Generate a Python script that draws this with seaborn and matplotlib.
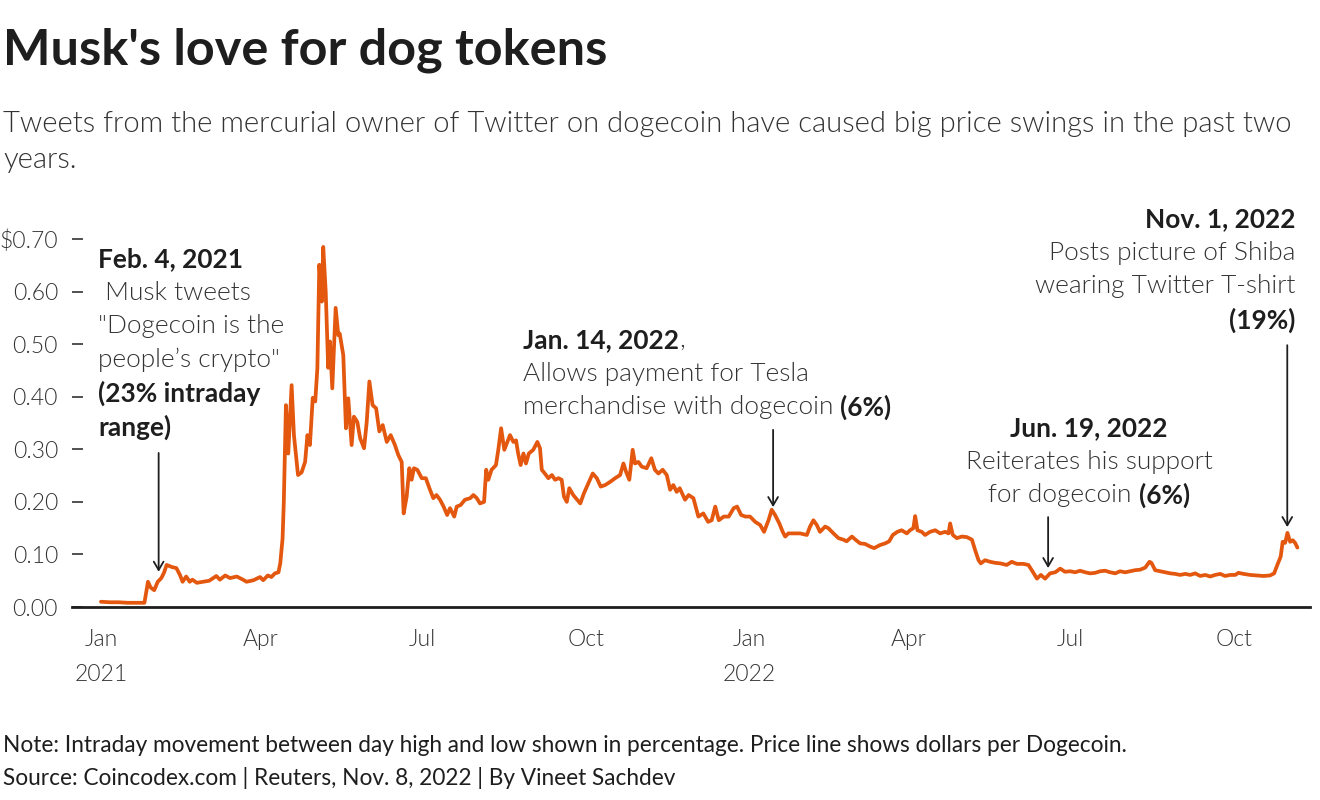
import matplotlib
matplotlib.use("Agg")
import matplotlib.pyplot as plt
import seaborn as sns
import pandas as pd

# ---- data ----
start_date = "2021-01-01"
day_offset = [0, 5, 10, 15, 20, 24.5, 26.5, 28, 30, 32, 34, 35.5, 37, 40, 42.5, 44.5, 46, 48, 50, 51.5,
              54, 57.5, 61, 65, 67, 70, 72.7, 76.5, 80, 82, 86, 89.6, 91.4, 94, 96, 98, 100, 101, 102.3, 103,
              104.2, 105.5, 107.4, 108.7, 111, 113, 115, 116.3, 117.7, 119.3, 120.7, 121.9, 123, 124.4, 125.2,
              126.6, 128, 129, 130.3, 132.2, 133.7, 134.5, 136.5, 138, 139.3, 141.2, 142.5, 144.4, 146, 148.2,
              149.7, 151.2, 153, 155, 156.8, 158.7, 161, 163.2, 165.6, 167.5, 169.4, 170.5, 172.2, 173.7, 175,
              176.3, 178.2, 180.7, 183, 185, 187.2, 189, 191, 193, 195, 196.6, 199, 200.4, 202.6, 205, 208,
              209.8, 211.7, 213.5, 215.8, 217, 218.2, 220, 222.5, 223.8, 225.4, 227.2, 228.6, 230.4, 232.3,
              233.8, 235, 236.4, 238, 239.4, 241, 243.5, 245.8, 247.3, 248.3, 250, 252, 254, 255.8, 257.7,
              259.5, 260.8, 262.4, 263.8, 266, 270, 272, 274.5, 277, 279.3, 281.5, 284, 286.8, 289.6, 292.4,
              294.3, 295.8, 297.6, 299.5, 300.8, 302.7, 304.6, 307.4, 310, 312, 314, 316.4, 318.7, 320.6,
              322.4, 324.3, 326, 329, 331, 333.7, 336.5, 339.3, 342, 344, 346, 348, 350.8, 353.6, 356.4,
              358.3, 360.6, 363, 365.6, 368.5, 371.3, 373.5, 376, 377.8, 379.7, 382.1, 384, 385.4, 387.2,
              390, 393.8, 397.6, 399.4, 401.3, 403.2, 405, 407.9, 409.7, 412.6, 415.4, 418.2, 420, 423, 425,
              427.6, 430.4, 433.2, 435.5, 438.9, 441.7, 444, 446, 448.6, 451, 453.9, 455.7, 457.6, 458.6,
              459.9, 462.3, 464.2, 467, 469.9, 472.7, 475.5, 477.4, 478.3, 479.8, 482.1, 484.9, 487.7, 490.6,
              492.4, 494.3, 495.6, 498, 500.8, 503.7, 506.5, 510.2, 513, 515.9, 519.6, 522.4, 524.3, 527.2,
              529.4, 531.8, 534.6, 537.5, 540.3, 543, 546, 548.7, 551.5, 554.4, 557.2, 560, 562.8, 565.6,
              568.5, 571.3, 574, 576.9, 579.7, 582.5, 585.4, 588.2, 590.6, 591.7, 593.8, 596.6, 599.4, 602.3,
              605, 607.9, 610.7, 613.5, 616.3, 619.2, 622, 624.8, 627.6, 630.4, 633.2, 636, 638.9, 640.7,
              643.5, 647.3, 651, 654.8, 658.5, 660.8, 662.6, 664.5, 665.6, 667, 668.3, 669.8, 671.3, 672.6,
              673.9]
price_usd = [0.010, 0.009, 0.009, 0.008, 0.008, 0.008, 0.048, 0.037, 0.032, 0.048, 0.055, 0.065, 0.080, 0.076,
             0.074, 0.061, 0.048, 0.058, 0.048, 0.052, 0.046, 0.048, 0.050, 0.059, 0.052, 0.060, 0.055, 0.058,
             0.052, 0.048, 0.051, 0.057, 0.051, 0.060, 0.057, 0.064, 0.066, 0.083, 0.130, 0.200, 0.384, 0.292,
             0.422, 0.327, 0.251, 0.256, 0.276, 0.327, 0.308, 0.398, 0.391, 0.454, 0.651, 0.581, 0.685, 0.600,
             0.455, 0.505, 0.416, 0.569, 0.517, 0.520, 0.479, 0.340, 0.397, 0.308, 0.362, 0.352, 0.321, 0.302,
             0.352, 0.429, 0.384, 0.378, 0.334, 0.346, 0.314, 0.327, 0.308, 0.289, 0.276, 0.178, 0.210, 0.264,
             0.242, 0.264, 0.261, 0.245, 0.245, 0.226, 0.207, 0.213, 0.204, 0.191, 0.175, 0.188, 0.172, 0.191,
             0.194, 0.204, 0.207, 0.213, 0.207, 0.197, 0.200, 0.261, 0.242, 0.261, 0.270, 0.299, 0.340, 0.299,
             0.311, 0.327, 0.314, 0.317, 0.292, 0.270, 0.292, 0.273, 0.292, 0.299, 0.314, 0.302, 0.261, 0.254,
             0.245, 0.251, 0.242, 0.245, 0.242, 0.210, 0.200, 0.226, 0.213, 0.197, 0.216, 0.235, 0.254, 0.245,
             0.229, 0.232, 0.238, 0.245, 0.251, 0.273, 0.257, 0.242, 0.299, 0.273, 0.276, 0.267, 0.264, 0.283,
             0.261, 0.254, 0.261, 0.251, 0.223, 0.232, 0.219, 0.226, 0.204, 0.213, 0.207, 0.172, 0.178, 0.162,
             0.165, 0.191, 0.165, 0.172, 0.172, 0.188, 0.191, 0.175, 0.172, 0.172, 0.162, 0.156, 0.143, 0.165,
             0.185, 0.175, 0.159, 0.143, 0.134, 0.140, 0.140, 0.140, 0.137, 0.153, 0.165, 0.156, 0.143, 0.153,
             0.150, 0.140, 0.131, 0.128, 0.125, 0.134, 0.128, 0.121, 0.120, 0.115, 0.112, 0.118, 0.121, 0.125,
             0.137, 0.143, 0.146, 0.140, 0.146, 0.150, 0.173, 0.146, 0.143, 0.137, 0.143, 0.146, 0.140, 0.143,
             0.140, 0.159, 0.137, 0.131, 0.134, 0.133, 0.128, 0.108, 0.089, 0.083, 0.089, 0.086, 0.084, 0.083,
             0.080, 0.086, 0.082, 0.082, 0.080, 0.070, 0.054, 0.061, 0.054, 0.064, 0.066, 0.073, 0.067, 0.068,
             0.066, 0.069, 0.066, 0.064, 0.065, 0.068, 0.069, 0.066, 0.064, 0.068, 0.066, 0.068, 0.070, 0.071,
             0.075, 0.086, 0.084, 0.070, 0.068, 0.066, 0.064, 0.063, 0.061, 0.063, 0.061, 0.064, 0.059, 0.061,
             0.058, 0.061, 0.063, 0.059, 0.061, 0.061, 0.065, 0.063, 0.061, 0.060, 0.059, 0.060, 0.064, 0.080,
             0.096, 0.124, 0.122, 0.141, 0.124, 0.127, 0.122, 0.113]

y_ticks = [0.0, 0.1, 0.2, 0.3, 0.4, 0.5, 0.6, 0.7]
y_tick_labels = ["0.00", "0.10", "0.20", "0.30", "0.40", "0.50", "0.60", "$0.70"]
x_ticks = ["2021-01-01", "2021-04-01", "2021-07-01", "2021-10-01",
           "2022-01-01", "2022-04-01", "2022-07-01", "2022-10-01"]
x_tick_labels = ["Jan\n2021", "Apr", "Jul", "Oct", "Jan\n2022", "Apr", "Jul", "Oct"]

title = "Musk's love for dog tokens"
subtitle = ("Tweets from the mercurial owner of Twitter on dogecoin have caused big price swings in the past two\n"
            "years.")
note = "Note: Intraday movement between day high and low shown in percentage. Price line shows dollars per Dogecoin."
source = "Source: Coincodex.com | Reuters, Nov. 8, 2022 | By Vineet Sachdev"

# ---- styling ----
sns.set_style("white")
plt.rcParams["font.family"] = ["Lato", "DejaVu Sans"]

LINE = "#e3570f"
DARK = "#1e1e1e"
TXT = "#333333"
LIGHT = 300
ANN = 18.9

df = pd.DataFrame({
    "date": pd.Timestamp(start_date) + pd.to_timedelta(day_offset, unit="D"),
    "price": price_usd,
})

fig = plt.figure(figsize=(13.2, 8.0), dpi=100)
ax = fig.add_axes([72 / 1320, 1 - 607 / 800, (1310 - 72) / 1320, (607 - 228.5) / 800])

sns.lineplot(data=df, x="date", y="price", ax=ax, color=LINE, linewidth=2.7)

x0 = pd.Timestamp(start_date)
ax.set_xlim(x0 - pd.Timedelta(days=16.3), x0 + pd.Timedelta(days=681))
ax.set_ylim(0, 0.72)

ax.set_yticks(y_ticks)
ax.set_yticklabels(y_tick_labels)
ax.set_xticks(pd.to_datetime(x_ticks))
ax.set_xticklabels(x_tick_labels, linespacing=1.8)
ax.set_xlabel("")
ax.set_ylabel("")

for s in ["top", "right", "left"]:
    ax.spines[s].set_visible(False)
ax.spines["bottom"].set_color(DARK)
ax.spines["bottom"].set_linewidth(2.0)
ax.tick_params(axis="y", direction="in", length=8, width=1.2, color=TXT, pad=10,
               labelsize=16.5, labelcolor=TXT, left=True)
ax.tick_params(axis="x", length=0, pad=16, labelsize=16.5, labelcolor=TXT)
for lab in ax.get_xticklabels() + ax.get_yticklabels():
    lab.set_fontweight(LIGHT)
ax.grid(False)

# ---- titles ----
fig.text(3 / 1320, 1 - 50 / 800, title, fontsize=36.3, fontweight="bold", color=DARK, va="center", ha="left")
fig.text(3 / 1320, 1 - 124 / 800, subtitle.split("\n")[0], fontsize=21.1, fontweight=LIGHT, color=TXT,
         va="center", ha="left")
fig.text(3 / 1320, 1 - 160 / 800, subtitle.split("\n")[1], fontsize=21.1, fontweight=LIGHT, color=TXT,
         va="center", ha="left")
fig.text(3 / 1320, 1 - 746 / 800, note, fontsize=16.3, color=DARK, va="center", ha="left")
fig.text(3 / 1320, 1 - 778 / 800, source, fontsize=16.3, color=DARK, va="center", ha="left")


def day(d):
    return x0 + pd.Timedelta(days=d)


LSP = 24.2  # line spacing in points


def seg_kw(bold):
    return dict(fontsize=ANN, color=DARK if bold else TXT,
                fontweight="bold" if bold else LIGHT, annotation_clip=False)


def block(anchor_day, anchor_val, lines, ha):
    """lines: list of lists of (text, bold) segments; mixed lines are re-aligned after a draw."""
    mixed = []
    for i, segs in enumerate(lines):
        arts = []
        for txt, bold in segs:
            if not arts:
                a = ax.annotate(txt, xy=(day(anchor_day), anchor_val), xycoords="data",
                                xytext=(0, -i * LSP), textcoords="offset points",
                                ha=ha if len(segs) == 1 else "left", va="center", **seg_kw(bold))
            else:
                a = ax.annotate(txt, xy=(1, 0.5), xycoords=arts[-1], ha="left", va="center", **seg_kw(bold))
            arts.append(a)
        if len(segs) > 1 and ha != "left":
            mixed.append((arts, i))
    return mixed


def arrow(d, v_from, v_to):
    ax.annotate("", xy=(day(d), v_to), xytext=(day(d), v_from), xycoords="data",
                arrowprops=dict(arrowstyle="->,head_length=0.6,head_width=0.35", color=DARK, lw=1.3,
                                shrinkA=0, shrinkB=0), annotation_clip=False)


pending = []
# Feb 4, 2021
block(-1.7, 0.662, [[("Feb. 4, 2021", True)],
                    [(" Musk tweets", False)],
                    [("\"Dogecoin is the", False)],
                    [("people\u2019s crypto\"", False)],
                    [("(23% intraday", True)],
                    [("range)", True)]], "left")
arrow(32.5, 0.293, 0.067)

# Jan 14, 2022
block(237.7, 0.508, [[("Jan. 14, 2022", True), (",", False)],
                     [("Allows payment for Tesla", False)],
                     [("merchandise with dogecoin ", False), ("(6%)", True)]], "left")
arrow(378.6, 0.337, 0.190)

# Jun 19, 2022 (centered)
pending += [("center", m) for m in block(556.6, 0.340, [[("Jun. 19, 2022", True)],
                                                     [("Reiterates his support", False)],
                                                     [("for dogecoin ", False), ("(6%)", True)]], "center")]
arrow(533.5, 0.171, 0.074)

# Nov 1, 2022 (right aligned)
block(672.7, 0.738, [[("Nov. 1, 2022", True)],
                     [("Posts picture of Shiba", False)],
                     [("wearing Twitter T-shirt", False)],
                     [("(19%)", True)]], "right")
arrow(668.2, 0.498, 0.152)

# re-align mixed-weight lines that are centered or right-aligned
fig.canvas.draw()
r = fig.canvas.get_renderer()
for ha, (arts, i) in pending:
    x_left = arts[0].get_window_extent(r).x0
    x_right = arts[-1].get_window_extent(r).x1
    w_pts = (x_right - x_left) * 72.0 / fig.dpi
    shift = -w_pts / 2 if ha == "center" else -w_pts
    arts[0].set_position((shift, -i * LSP))

fig.savefig("out.png", dpi=100)
